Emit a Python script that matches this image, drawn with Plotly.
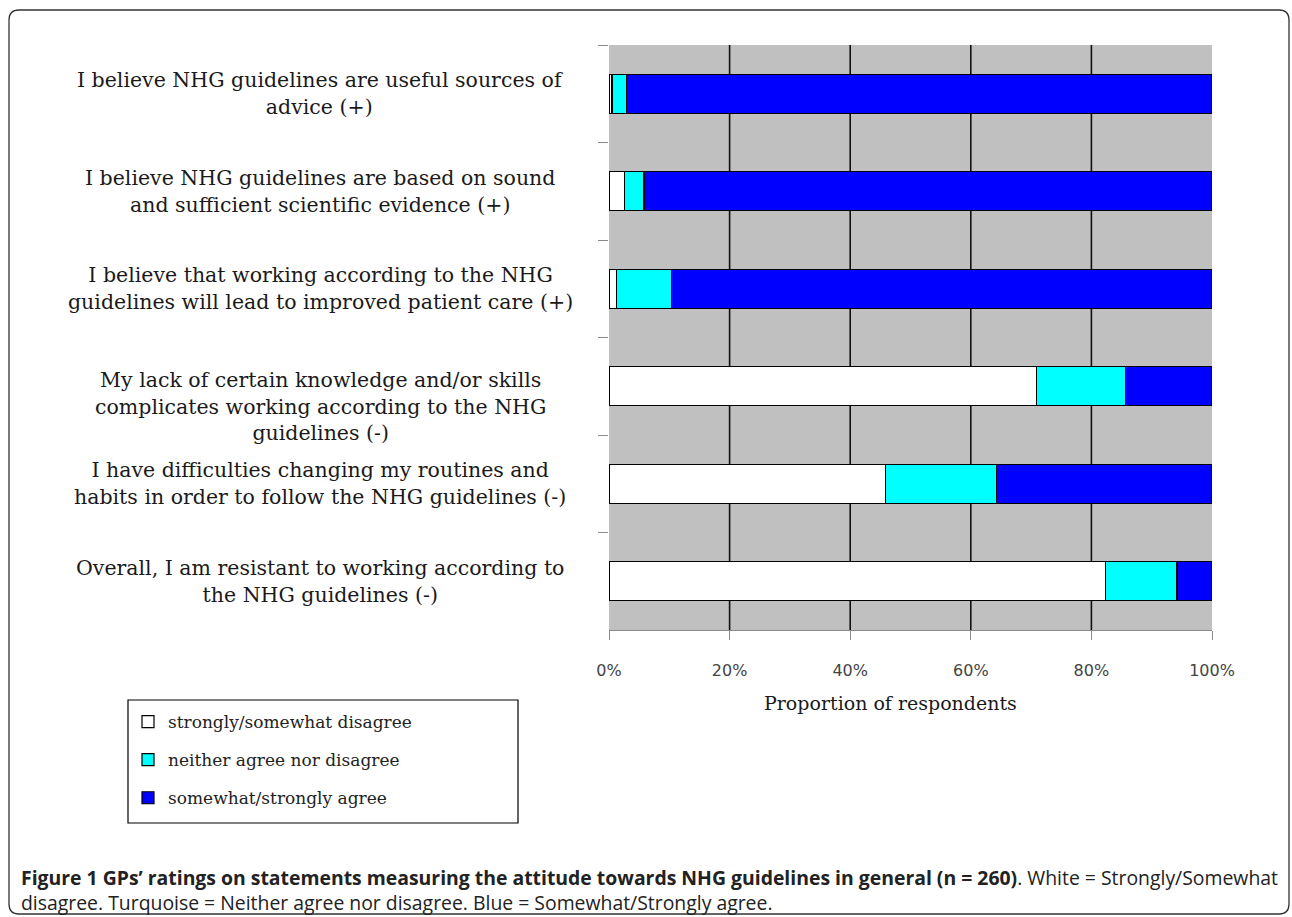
import plotly.graph_objects as go

# ---------------- data ----------------
statements = [
    "I believe NHG guidelines are useful sources of<br>advice (+)",
    "I believe NHG guidelines are based on sound<br>and sufficient scientific evidence (+)",
    "I believe that working according to the NHG<br>guidelines will lead to improved patient care (+)",
    "My lack of certain knowledge and/or skills<br>complicates working according to the NHG<br>guidelines (-)",
    "I have difficulties changing my routines and<br>habits in order to follow the NHG guidelines (-)",
    "Overall, I am resistant to working according to<br>the NHG guidelines (-)",
]
disagree = [0.5, 2.6, 1.2, 70.9, 45.8, 82.3]
neutral = [2.4, 3.2, 9.2, 14.8, 18.4, 11.9]
agree = [97.1, 94.2, 89.6, 14.3, 35.8, 5.8]
series_names = ["strongly/somewhat disagree", "neither agree nor disagree", "somewhat/strongly agree"]
x_ticks = [0, 20, 40, 60, 80, 100]
x_tick_labels = ["0%", "20%", "40%", "60%", "80%", "100%"]
x_title = "Proportion of respondents"
caption_bold = "Figure 1 GPs\u2019 ratings on statements measuring the attitude towards NHG guidelines in general (n = 260)"
caption_rest1 = ". White = Strongly/Somewhat"
caption_line2 = "disagree. Turquoise = Neither agree nor disagree. Blue = Somewhat/Strongly agree."

# ---------------- layout geometry (pixels) ----------------
W, H = 1292, 917
L, R, T, B = 609, 1212, 45, 630
pw, ph = R - L, B - T


def px(x):
    return (x - L) / pw


def py(y):
    return (B - y) / ph


colors = ["#FFFFFF", "#00FFFF", "#0000FF"]
label_shift = [0, 0, 0, -20, 0, 0]

fig = go.Figure()
for name, vals, col in zip(series_names, [disagree, neutral, agree], colors):
    fig.add_trace(go.Bar(
        y=statements, x=vals, name=name, orientation="h",
        marker=dict(color=col, line=dict(color="#000000", width=1.2)),
        width=0.4, legendgroup=name,
    ))

fig.update_layout(
    width=W, height=H,
    margin=dict(l=L, r=W - R, t=T, b=H - B, pad=0),
    barmode="stack",
    paper_bgcolor="#FFFFFF",
    plot_bgcolor="#C0C0C0",
    showlegend=True,
    legend=dict(
        x=px(128), y=py(704), xanchor="left", yanchor="top",
        font=dict(family="DejaVu Serif", size=17, color="#222"),
        bgcolor="rgba(0,0,0,0)", borderwidth=0,
        tracegroupgap=13, itemwidth=30, traceorder="grouped",
    ),
    bargap=0.6,
)

fig.update_xaxes(
    range=[0, 100], tickvals=x_ticks, ticktext=x_tick_labels,
    showgrid=False,
    zeroline=False, showline=True, linecolor="#8a8a8a", linewidth=1,
    ticks="outside", ticklen=9, tickcolor="#8a8a8a", tickwidth=1,
    tickfont=dict(family="DejaVu Sans", size=16, color="#444"),
    ticklabelstandoff=17,
)
fig.update_yaxes(
    categoryorder="array", categoryarray=statements, autorange="reversed",
    showticklabels=False, tickson="boundaries", ticks="outside", ticklen=10,
    tickcolor="#8a8a8a", tickwidth=1, showgrid=False, zeroline=False, showline=False,
)

# vertical gridlines (inner ticks only, beneath the bars)
for v in x_ticks[1:-1]:
    fig.add_shape(type="line", xref="x", yref="paper", x0=v, x1=v, y0=0, y1=1,
                  line=dict(color="#111111", width=1.6), layer="below")

# category labels (centered multi-line text)
for s, dy in zip(statements, label_shift):
    fig.add_annotation(
        x=px(320), xref="paper", y=s, yref="y", text=s, showarrow=False,
        xanchor="center", yanchor="middle", align="center", yshift=dy,
        font=dict(family="DejaVu Serif", size=20.5, color="#1a1a1a"),
    )

# axis title
fig.add_annotation(
    x=px(890), y=py(703), xref="paper", yref="paper", text=x_title,
    showarrow=False, xanchor="center", yanchor="middle",
    font=dict(family="DejaVu Serif", size=19, color="#1a1a1a"),
)

# legend box
fig.add_shape(type="rect", xref="paper", yref="paper",
              x0=px(128), x1=px(518), y0=py(700), y1=py(823),
              line=dict(color="#000", width=1.2), fillcolor="rgba(0,0,0,0)")

# outer rounded frame
x0, x1, y0, y1, r = 9, 1289, 10, 914, 10
path = (
    f"M {px(x0 + r)} {py(y0)} L {px(x1 - r)} {py(y0)} "
    f"Q {px(x1)} {py(y0)} {px(x1)} {py(y0 + r)} "
    f"L {px(x1)} {py(y1 - r)} Q {px(x1)} {py(y1)} {px(x1 - r)} {py(y1)} "
    f"L {px(x0 + r)} {py(y1)} Q {px(x0)} {py(y1)} {px(x0)} {py(y1 - r)} "
    f"L {px(x0)} {py(y0 + r)} Q {px(x0)} {py(y0)} {px(x0 + r)} {py(y0)} Z"
)
fig.add_shape(type="path", xref="paper", yref="paper", path=path,
              line=dict(color="#333", width=1.3), fillcolor="rgba(0,0,0,0)")

# caption
fig.add_annotation(
    x=px(19), y=py(877), xref="paper", yref="paper",
    text=f"<b>{caption_bold}</b>{caption_rest1}",
    showarrow=False, xanchor="left", yanchor="middle",
    font=dict(family="Open Sans", size=19.4, color="#222"),
)
fig.add_annotation(
    x=px(19), y=py(902), xref="paper", yref="paper",
    text=caption_line2,
    showarrow=False, xanchor="left", yanchor="middle",
    font=dict(family="Open Sans", size=19.4, color="#222"),
)

fig.write_html("out.html")
